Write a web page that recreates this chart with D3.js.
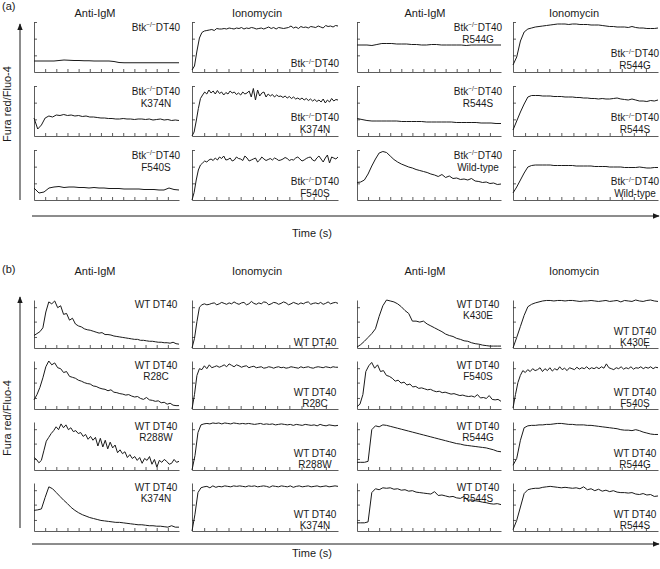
<!DOCTYPE html>
<html lang="en">
<head>
<meta charset="UTF-8">
<title>Fura red/Fluo-4 traces</title>
<style>
    body { margin: 0; padding: 0; background: #fff; }
    #chart text { font-family: 'Liberation Sans', Arial, sans-serif; fill: #1a1a1a; }
    .trace { fill: none; stroke: #1a1a1a; stroke-width: 1; stroke-linejoin: round; }
    .axis path, .axis line { stroke: #333; stroke-width: 0.8; }
</style>
</head>
<body>
<div id="chart"></div>
<script src="https://d3js.org/d3.v7.min.js"></script>
<script>
// traces: 0 = bottom of panel, 100 = top, evenly spaced in time

// (a) Btk-/- DT40 cells
const igmBtk = [22,22,22,22,22,23,24,23.5,23,23,22.5,22.5,22,22,22,22,21,19,18.5,18.5,18.5,18.5,18.5,18.5,18.5,18.5,18.5,18.5,18.5,18.5];
const ionoBtk = [4,12,42,68,79,82,83,84,85,83,87,86,86,87,86,88,87,86,88,87,89,86,88,87,89,88,86,87,88,86,88,90,87,89,86,89,88,87,88,89,92,88,90,87,91,89,90,88,91,90,89,92,90,88,93,91,92,90,93,92];
const igmBtkK374N = [36,14,22,36,40,38,42,41,43,41,42,40,41,39,40,38,38,37,36,36,35,35,34,34,35,34,34,33,34,34,33,34,32,33,34,32,33,31,32,31];
const ionoBtkK374N = [0,8,30,55,75,82,88,84,92,86,90,84,91,85,88,82,87,84,90,86,88,83,86,82,88,84,86,90,78,95,72,92,80,86,88,78,84,80,83,78,82,79,80,77,80,76,79,75,78,74,76,73,76,72,75,71,74,70,73,69,72,68,74,66,72,68,75,70,73,72];
const igmBtkF540S = [24,14,16,24,26,27,25,26,26,25,25,24,25,24,24,23,23,23,22,22,22,22,21,21,21,20,20,24,21,20];
const ionoBtkF540S = [0,15,40,60,70,74,78,76,80,82,79,84,80,86,83,88,80,81,84,78,80,86,83,82,79,88,84,78,80,82,84,76,80,86,82,79,81,83,80,84,82,79,80,82,85,83,79,81,80,84,86,82,78,80,83,85,86,80,78,84,88,82,76,84,90,74,86,84,82,86];
const igmBtkR544G = [54,54,54,53,55,57,57,57,56,56,56,55,55,54,54,55,55,54,54,54,54,54,53,54,54,54,54,54,54,54];
const ionoBtkR544G = [14,30,62,80,86,88,90,91,92,93,94,95,96,96,96,95,96,96,95,95,95,94,94,94,93,92,91,91,90,90,90,89,91,89,88,88,87,87,87,88];
const igmBtkR544S = [35,33,31,30,30,30,30,30,30,29,29,29,29,29,28,28,28,28,28,28,27,27,27,27,27,26,26,26,25,25];
const ionoBtkR544S = [12,30,48,64,78,81,81,81,80,80,80,79,79,79,78,78,78,77,77,76,76,75,75,74,75,74,74,75,76,74,73,72,74,72,70,70,69,71,70,72];
const igmBtkWT = [35,36,40,52,68,82,94,97,95,88,81,76,72,69,66,64,61,59,57,55,52,50,47,51,45,48,43,44,41,42,40,43,38,37,35,36,33,34,31,32];
const ionoBtkWT = [14,26,40,54,66,69,70,70,70,70,70,69,69,69,69,69,69,68,68,68,68,68,67,67,67,67,66,66,66,66,65,65,65,65,66,65,64,64,65,65];

// (b) WT DT40 cells
const igmWT = [26,30,34,42,75,96,92,98,84,88,70,72,58,62,50,46,44,40,38,37,35,33,31,32,28,28,27,25,24,23,22,21,20,19,18,18,16,16,15,14,14,13,12,12,11,11,10,12,9,8];
const ionoWT = [0,20,55,85,90,92,90,91,93,94,90,92,95,93,91,94,92,96,93,91,94,95,90,92,97,93,91,94,92,96,95,90,92,95,94,91,93,96,94,90,92,95,93,91,94,92,95,96,91,93,94,92,95,91,93,96,92,94,95,93];
const igmWTR28C = [19,30,45,65,88,100,92,96,86,84,76,78,68,66,64,60,58,55,53,52,48,47,44,42,41,38,40,35,34,32,31,29,30,27,25,26,22,20,24,19,18,16,17,13,14,10,12,8,7,7];
const ionoWTR28C = [0,30,70,84,82,90,84,92,86,88,90,87,89,92,88,94,91,88,92,90,87,89,90,86,88,89,86,87,88,85,86,88,87,85,87,88,86,87,85,86,88,87,86,85,88,86,87,88,86,85,87,88,87,86,88,87,86,88,87,87];
const igmWTR288W = [26,22,15,20,40,60,68,76,82,90,84,96,88,94,84,88,80,82,76,78,70,74,64,70,62,68,50,66,48,62,44,58,46,52,36,42,34,38,26,32,24,28,20,26,14,24,20,28,12,22,6,20,16,22,18,12,14,22,16,18];
const ionoWTR288W = [0,30,78,94,96,97,96,98,97,98,96,98,97,96,98,97,96,97,96,97,96,95,96,97,95,96,95,96,94,95,96,95,94,95,93,95,94,93,95,94,93,94,92,95,93,92,94,93,92,93];
const igmWTK374N = [43,44,46,70,92,88,80,72,64,57,49,43,38,34,31,28,26,24,22,21,20,19,18,18,17,16,15,14,13,13,12,11,11,10,10,9,8,11,8,8];
const ionoWTK374N = [0,35,80,90,92,93,90,94,91,93,92,94,93,92,94,93,94,93,92,94,93,94,92,93,94,93,91,94,93,92,94,93,92,94,91,93,94,92,93,94,92,93,94,92,93,94,92,93,94,93];
const igmWTK430E = [2,7,14,22,30,40,66,88,100,98,96,92,86,78,72,56,56,54,56,50,46,42,38,34,29,26,24,20,18,15,14,11,9,8,6,5,4,4,4,4];
const ionoWTK430E = [0,22,45,68,86,91,94,96,98,99,99,98,99,99,98,99,99,98,97,98,98,99,98,97,98,99,97,98,99,96,99,98,97,100,98,97,99,100,98,97];
const igmWTF540S = [5,10,30,78,90,97,85,92,78,80,70,68,64,58,60,54,56,50,52,46,47,43,44,42,40,41,38,36,37,34,35,33,31,32,30,28,29,27,26,27,25,30,23,24,22,28,20,19,20,16];
const ionoWTF540S = [2,30,55,70,80,76,82,78,84,80,82,86,78,84,80,86,79,84,81,88,82,85,80,86,84,82,87,83,86,84,88,83,86,84,87,84,88,85,94,86,84,82,86,84,88,83,86,84,88,83,86,85,88,84,87,85,88,84,87,86];
const igmWTR544G = [16,16,16,18,84,92,90,94,93,91,89,87,85,83,81,79,77,75,73,71,69,67,65,63,61,59,57,55,54,52,51,50,49,48,47,46,44,42,39,38];
const ionoWTR544G = [10,24,62,88,92,93,93,94,94,95,95,96,97,97,96,95,95,94,94,94,93,93,92,91,90,89,88,87,86,84,83,83,82,84,82,79,77,75,74,74];
const igmWTR544S = [17,17,17,19,80,88,86,90,89,90,87,88,85,86,83,84,81,80,79,78,77,82,74,75,73,71,72,69,68,72,64,65,63,62,60,59,57,56,57,55];
const ionoWTR544S = [3,22,50,78,86,88,89,89,91,92,93,92,91,90,91,90,89,90,88,92,86,88,84,87,83,85,82,84,81,80,80,79,80,77,76,78,75,76,72,73];

const colHeaders = ["Anti-IgM", "Ionomycin", "Anti-IgM", "Ionomycin"];
const mutantsA = [["", "K374N", "F540S"], ["R544G", "R544S", "Wild-type"]];
const mutantsB = [["", "R28C", "R288W", "K374N"], ["K430E", "F540S", "R544G", "R544S"]];
const tracesA = [
    [[igmBtk, ionoBtk], [igmBtkK374N, ionoBtkK374N], [igmBtkF540S, ionoBtkF540S]],
    [[igmBtkR544G, ionoBtkR544G], [igmBtkR544S, ionoBtkR544S], [igmBtkWT, ionoBtkWT]]
];
const tracesB = [
    [[igmWT, ionoWT], [igmWTR28C, ionoWTR28C], [igmWTR288W, ionoWTR288W], [igmWTK374N, ionoWTK374N]],
    [[igmWTK430E, ionoWTK430E], [igmWTF540S, ionoWTF540S], [igmWTR544G, ionoWTR544G], [igmWTR544S, ionoWTR544S]]
];
const yLabel = "Fura red/Fluo-4";
const xLabel = "Time (s)";

const svg = d3.select("#chart").append("svg")
    .attr("width", 660)
    .attr("height", 569);

svg.append("defs").append("marker")
    .attr("id", "arrow")
    .attr("viewBox", "0 0 10 10")
    .attr("refX", 9).attr("refY", 5)
    .attr("markerWidth", 7).attr("markerHeight", 7)
    .attr("markerUnits", "userSpaceOnUse")
    .attr("orient", "auto")
  .append("path")
    .attr("d", "M0,1 L10,5 L0,9 Z")
    .attr("fill", "#1a1a1a");

const colLeft = [34, 192, 357, 513];
const colWidth = [145, 146, 144, 145];

const sections = [
    { tag: "(a)", tagY: 10, headY: 17, tops: [22, 86, 150], h: 50, yTicks: [33.3, 66.7, 100],
      cell: "btk", mutants: mutantsA, traces: tracesA,
      igm1: 8.5, igm2: 20.5, io1: 15, io2: 3, ioSingle: 5,
      yArrow: [200, 24], yLabelY: 104, xArrowY: 216, xLabelY: 237 },
    { tag: "(b)", tagY: 273, headY: 275, tops: [300, 361, 422, 483], h: 48, yTicks: [23, 55, 85],
      cell: "wt", mutants: mutantsB, traces: tracesB,
      igm1: 7.5, igm2: 19, io1: 13, io2: 2, ioSingle: 2,
      yArrow: [528, 297], yLabelY: 418, xArrowY: 544, xLabelY: 557 }
];

const headerX = [95, 257, 425, 574];

function cellText(sel, cell) {
    if (cell === "wt") {
        sel.text("WT DT40");
        return;
    }
    sel.append("tspan").text("Btk");
    sel.append("tspan").attr("font-size", 6.5).attr("dy", -3.5).text("\u2212/\u2212");
    sel.append("tspan").attr("dy", 3.5).text("DT40");
}

function drawPanel(sec, col, row, values, mutant) {
    const top = sec.tops[row], h = sec.h, w = colWidth[col];
    const isIgm = col % 2 === 0;
    const xMax = isIgm ? 13 : 12;
    const g = svg.append("g").attr("transform", `translate(${colLeft[col]},${top})`);

    const x = d3.scaleLinear().domain([0, xMax]).range([0, w]);
    const y = d3.scaleLinear().domain([0, 100]).range([h, 0]);

    g.append("g")
        .attr("class", "axis")
        .attr("transform", `translate(0,${h})`)
        .call(d3.axisBottom(x).tickValues(d3.range(1, xMax)).tickSize(-3).tickSizeOuter(0).tickFormat(""));
    g.append("g")
        .attr("class", "axis")
        .call(d3.axisLeft(y).tickValues(sec.yTicks).tickSize(-3).tickSizeOuter(0).tickFormat(""));

    const n = values.length;
    const line = d3.line()
        .x((d, i) => x(xMax * i / (n - 1)))
        .y(d => y(d));
    g.append("path").datum(values).attr("class", "trace").attr("d", line);

    // labels
    const cx = w - 23;
    let y1, y2;
    if (isIgm) {
        y1 = sec.igm1; y2 = sec.igm2;
    } else {
        y1 = mutant ? h - sec.io1 : h - sec.ioSingle;
        y2 = h - sec.io2;
    }
    const t1 = g.append("text").attr("x", cx).attr("y", y1)
        .attr("text-anchor", "middle").attr("font-size", 10);
    cellText(t1, sec.cell);
    if (mutant) {
        g.append("text").attr("x", cx).attr("y", y2)
            .attr("text-anchor", "middle").attr("font-size", 10)
            .text(mutant);
    }
}

sections.forEach(sec => {
    svg.append("text").attr("x", 2).attr("y", sec.tagY).attr("font-size", 11).text(sec.tag);
    colHeaders.forEach((hd, i) => {
        svg.append("text").attr("x", headerX[i]).attr("y", sec.headY)
            .attr("text-anchor", "middle").attr("font-size", 11).text(hd);
    });

    sec.traces.forEach((rows, half) => {
        rows.forEach((pair, row) => {
            const mutant = sec.mutants[half][row];
            drawPanel(sec, half * 2, row, pair[0], mutant);
            drawPanel(sec, half * 2 + 1, row, pair[1], mutant);
        });
    });

    // y arrow
    svg.append("line")
        .attr("x1", 20).attr("x2", 20)
        .attr("y1", sec.yArrow[0]).attr("y2", sec.yArrow[1])
        .attr("stroke", "#1a1a1a").attr("stroke-width", 1)
        .attr("marker-end", "url(#arrow)");
    svg.append("text")
        .attr("transform", `translate(11,${sec.yLabelY}) rotate(-90)`)
        .attr("text-anchor", "middle").attr("font-size", 11)
        .text(yLabel);

    // x arrow
    svg.append("line")
        .attr("x1", 32).attr("x2", 659)
        .attr("y1", sec.xArrowY).attr("y2", sec.xArrowY)
        .attr("stroke", "#1a1a1a").attr("stroke-width", 1)
        .attr("marker-end", "url(#arrow)");
    svg.append("text")
        .attr("x", 312).attr("y", sec.xLabelY)
        .attr("text-anchor", "middle").attr("font-size", 11)
        .text(xLabel);
});
</script>
</body>
</html>
